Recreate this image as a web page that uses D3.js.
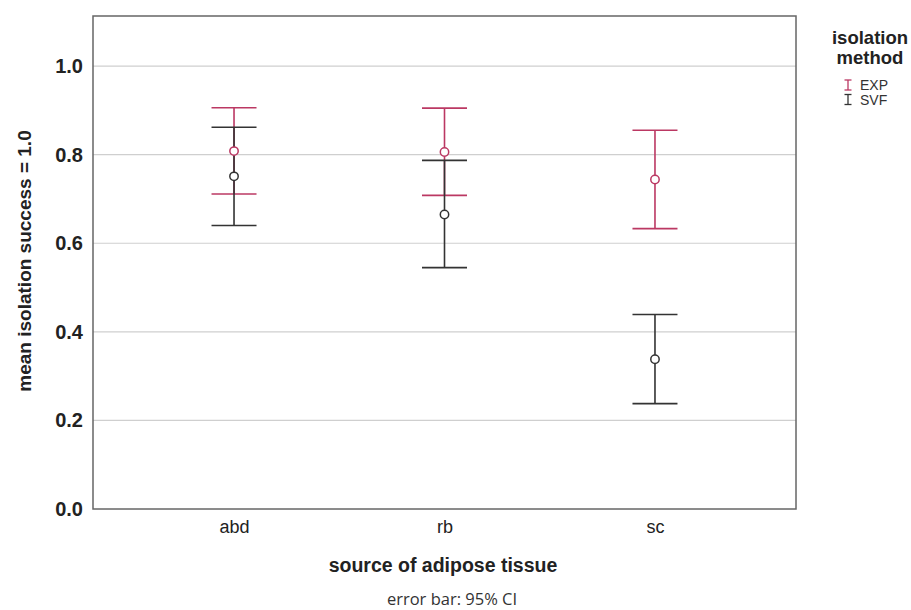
<!DOCTYPE html>
<html lang="en">
<head>
<meta charset="utf-8">
<title>mean isolation success by source of adipose tissue</title>
<script src="https://d3js.org/d3.v7.min.js"></script>
<style>
  body { margin: 0; background: #fff; font-family: "Liberation Sans", Arial, sans-serif; }
  .grid line { stroke: #cfcfcf; stroke-width: 1.2; }
  .tick text { fill: #222; }
</style>
</head>
<body>
<script>
// data
const categories = ["abd", "rb", "sc"];
const methods = ["EXP", "SVF"];
const expMean  = [0.808, 0.806, 0.744];
const expLower = [0.711, 0.708, 0.633];
const expUpper = [0.906, 0.905, 0.855];
const svfMean  = [0.751, 0.665, 0.338];
const svfLower = [0.640, 0.545, 0.238];
const svfUpper = [0.862, 0.787, 0.439];
const yTicks = [0, 0.2, 0.4, 0.6, 0.8, 1.0];

const w = 911, h = 610;
const plotLeft = 93, plotRight = 796, plotTop = 16, plotBottom = 509;
const colors = { EXP: "#bb3863", SVF: "#333333" };

const svg = d3.select("body").append("svg")
  .attr("width", w).attr("height", h);

const xScale = d3.scalePoint().domain(categories).range([plotLeft, plotRight]).padding(0.67);
const yScale = d3.scaleLinear().domain([0, 1.113]).range([plotBottom, plotTop]);

// gridlines
svg.append("g").attr("class", "grid")
  .selectAll("line").data(yTicks.filter(d => d > 0)).join("line")
  .attr("x1", plotLeft).attr("x2", plotRight)
  .attr("y1", d => yScale(d)).attr("y2", d => yScale(d));

// frame
svg.append("rect")
  .attr("x", plotLeft).attr("y", plotTop)
  .attr("width", plotRight - plotLeft).attr("height", plotBottom - plotTop)
  .attr("fill", "none").attr("stroke", "#666").attr("stroke-width", 1.5);

// left axis
const leftAxis = d3.axisLeft(yScale).tickValues(yTicks).tickFormat(d3.format(".1f")).tickSize(0).tickPadding(10);
svg.append("g")
  .attr("transform", "translate(" + plotLeft + ",0)")
  .call(leftAxis)
  .call(g => g.select(".domain").remove())
  .selectAll("text")
  .attr("font-size", 20).attr("font-weight", "bold")
  .attr("font-family", "Liberation Sans, Arial, sans-serif");

// bottom axis
const bottomAxis = d3.axisBottom(xScale).tickSize(0).tickPadding(11);
svg.append("g")
  .attr("transform", "translate(0," + plotBottom + ")")
  .call(bottomAxis)
  .call(g => g.select(".domain").remove())
  .selectAll("text")
  .attr("font-size", 18)
  .attr("font-family", "Liberation Sans, Arial, sans-serif");

// error bars
const series = [
  { key: "EXP", mean: expMean, lo: expLower, hi: expUpper },
  { key: "SVF", mean: svfMean, lo: svfLower, hi: svfUpper }
];
const cap = 22.5;

series.forEach(s => {
  const g = svg.append("g").attr("stroke", colors[s.key]).attr("stroke-width", 1.6).attr("fill", "none");
  categories.forEach((c, i) => {
    const x = xScale(c);
    g.append("line").attr("x1", x).attr("x2", x).attr("y1", yScale(s.lo[i])).attr("y2", yScale(s.hi[i]));
    g.append("line").attr("x1", x - cap).attr("x2", x + cap).attr("y1", yScale(s.hi[i])).attr("y2", yScale(s.hi[i]));
    g.append("line").attr("x1", x - cap).attr("x2", x + cap).attr("y1", yScale(s.lo[i])).attr("y2", yScale(s.lo[i]));
  });
});
series.forEach(s => {
  svg.append("g").selectAll("circle").data(categories).join("circle")
    .attr("cx", d => xScale(d))
    .attr("cy", (d, i) => yScale(s.mean[i]))
    .attr("r", 4.2)
    .attr("fill", "#fff")
    .attr("stroke", colors[s.key])
    .attr("stroke-width", 1.5);
});

// axis titles
svg.append("text")
  .attr("transform", "translate(31," + 261 + ") rotate(-90)")
  .attr("text-anchor", "middle")
  .attr("font-size", 19).attr("font-weight", "bold").attr("fill", "#222")
  .text("mean isolation success = 1.0");

svg.append("text")
  .attr("x", 443).attr("y", 572)
  .attr("text-anchor", "middle")
  .attr("font-size", 19.5).attr("font-weight", "bold").attr("fill", "#222")
  .text("source of adipose tissue");

svg.append("text")
  .attr("x", 452).attr("y", 605)
  .attr("text-anchor", "middle")
  .attr("font-family", "Open Sans, sans-serif")
  .attr("font-size", 16.5).attr("fill", "#333")
  .text("error bar: 95% CI");

// legend
const legend = svg.append("g");
legend.append("text").attr("x", 870).attr("y", 44).attr("text-anchor", "middle")
  .attr("font-size", 18.5).attr("font-weight", "bold").attr("fill", "#222").text("isolation");
legend.append("text").attr("x", 870).attr("y", 64).attr("text-anchor", "middle")
  .attr("font-size", 18.5).attr("font-weight", "bold").attr("fill", "#222").text("method");
methods.forEach((m, i) => {
  const y = 90 + i * 14.5;
  const gi = legend.append("g").attr("stroke", colors[m]).attr("stroke-width", 1.3);
  gi.append("line").attr("x1", 848).attr("x2", 848).attr("y1", y - 10).attr("y2", y);
  gi.append("line").attr("x1", 844.5).attr("x2", 851.5).attr("y1", y - 10).attr("y2", y - 10);
  gi.append("line").attr("x1", 844.5).attr("x2", 851.5).attr("y1", y).attr("y2", y);
  legend.append("text").attr("x", 860).attr("y", y).attr("font-size", 14).attr("fill", "#333").text(m);
});
</script>
</body>
</html>
